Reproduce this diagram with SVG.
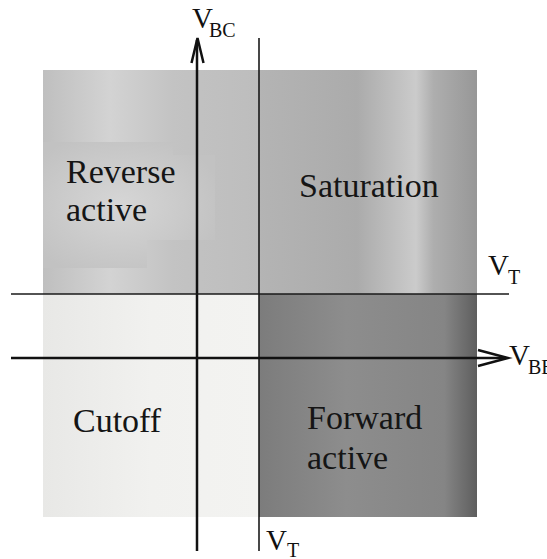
<svg xmlns="http://www.w3.org/2000/svg" width="547" height="559" viewBox="0 0 547 559">
  <defs>
    <linearGradient id="gTL" x1="0" y1="0" x2="1" y2="0">
      <stop offset="0" stop-color="#bfbfbf"/>
      <stop offset="0.31" stop-color="#d3d3d3"/>
      <stop offset="0.6" stop-color="#c3c3c3"/>
      <stop offset="1" stop-color="#bdbdbd"/>
    </linearGradient>
    <linearGradient id="gSat" x1="0" y1="0" x2="1" y2="0">
      <stop offset="0" stop-color="#b4b4b4"/>
      <stop offset="0.45" stop-color="#ababab"/>
      <stop offset="0.72" stop-color="#cbcbcb"/>
      <stop offset="0.8" stop-color="#aeaeae"/>
      <stop offset="1" stop-color="#979797"/>
    </linearGradient>
    <linearGradient id="gLL" x1="0" y1="0" x2="1" y2="0">
      <stop offset="0" stop-color="#e8e8e6"/>
      <stop offset="0.5" stop-color="#f1f1ef"/>
      <stop offset="1" stop-color="#f3f3f1"/>
    </linearGradient>
    <linearGradient id="gFA" x1="0" y1="0" x2="1" y2="0">
      <stop offset="0" stop-color="#7c7c7c"/>
      <stop offset="0.4" stop-color="#8d8d8d"/>
      <stop offset="0.85" stop-color="#858585"/>
      <stop offset="1" stop-color="#5e5e5e"/>
    </linearGradient>
    <radialGradient id="gRA" cx="0.45" cy="0.5" r="0.6">
      <stop offset="0" stop-color="#d6d6d6"/>
      <stop offset="1" stop-color="#c2c2c2"/>
    </radialGradient>
  </defs>
  <style>
    text { font-family: "Liberation Serif", "DejaVu Serif", "Times New Roman", serif; }
    .lbl { font-size: 34px; fill: #151515; }
    .v { font-size: 29px; fill: #111; }
    .sub { font-size: 20px; fill: #111; }
    .axis { stroke: #111; stroke-width: 2.5; fill: none; }
    .thr { stroke: #1a1a1a; stroke-width: 1.6; fill: none; }
    .head { stroke: #111; stroke-width: 2.5; fill: none; }
  </style>

  <g id="region-cutoff">
    <rect x="43" y="294" width="216" height="223" fill="url(#gLL)"/>
    <text class="lbl" x="73" y="432" font-family="Liberation Serif, serif" font-size="33">Cutoff</text>
  </g>
  <g id="region-reverse-active">
    <rect x="43" y="70" width="216" height="224" fill="url(#gTL)"/>
    <polygon points="43,142 173,142 173,155 215,155 215,240 147,240 147,268 43,268" fill="url(#gRA)"/>
    <text class="lbl" x="66" y="183" font-family="Liberation Serif, serif">Reverse</text>
    <text class="lbl" x="66" y="221" font-family="Liberation Serif, serif">active</text>
  </g>
  <g id="region-saturation">
    <rect x="259" y="70" width="218" height="224" fill="url(#gSat)"/>
    <text class="lbl" x="299" y="197" font-family="Liberation Serif, serif">Saturation</text>
  </g>
  <g id="region-forward-active">
    <rect x="259" y="294" width="218" height="223" fill="url(#gFA)"/>
    <text class="lbl" x="307" y="429" font-family="Liberation Serif, serif">Forward</text>
    <text class="lbl" x="307" y="469" font-family="Liberation Serif, serif">active</text>
  </g>

  <g id="connectors">
    <line class="axis" x1="197" y1="551" x2="197" y2="40"/>
    <path class="head" d="M191.5,63 L197.5,38 L203.5,63"/>
    <line class="thr" x1="259" y1="38" x2="259" y2="551"/>
    <line class="thr" x1="11" y1="294" x2="509" y2="294"/>
    <line class="axis" x1="11" y1="358" x2="506" y2="358"/>
    <path class="head" d="M478,350 L508,358 L478,366"/>
  </g>

  <g id="labels" font-family="Liberation Serif, serif">
    <text class="v" x="192" y="28">V</text><text class="sub" x="209" y="37">BC</text>
    <text class="v" x="488" y="275">V</text><text class="sub" x="508" y="284">T</text>
    <text class="v" x="509" y="365">V</text><text class="sub" x="528" y="374">BE</text>
    <text class="v" x="266" y="550">V</text><text class="sub" x="287" y="557">T</text>
  </g>
</svg>
